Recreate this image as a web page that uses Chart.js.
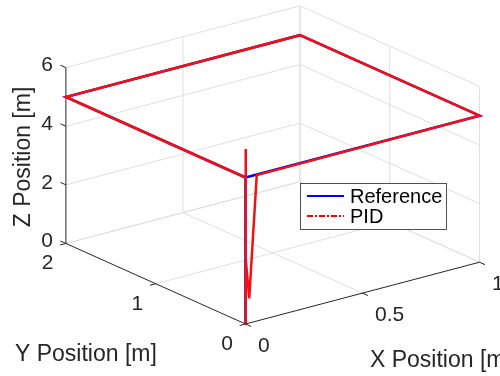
<!DOCTYPE html>
<html>
<head>
<meta charset="utf-8">
<script src="https://cdn.jsdelivr.net/npm/chart.js@4.4.0/dist/chart.umd.min.js"></script>
<style>
  html, body { margin: 0; padding: 0; background: #fff; }
  canvas { display: block; }
</style>
</head>
<body>
<canvas id="traj3d" width="500" height="376"></canvas>
<script>
// Reference waypoints (m)
const refX = [0, 0, 1, 1, 0, 0];
const refY = [0, 0, 0, 2, 2, 0];
const refZ = [0, 5, 5, 5, 5, 5];

// PID tracked path (m)
const pidX = [0, 0, 0.002, 0.016, 0.048, 1, 1, 0, 0];
const pidY = [0, 0, 0, 0, 0, 0, 2, 2, 0];
const pidZ = [0, 5.97, 2.2, 0.84, 4.98, 5, 5, 5, 5];

// Axis limits and ticks
const xLim = [0, 1], yLim = [0, 2], zLim = [0, 6];
const xTicks = [0, 0.5, 1];
const yTicks = [0, 1, 2];
const zTicks = [0, 2, 4, 6];
const xTickLabels = ['0', '0.5', '1'];
const yTickLabels = ['0', '1', '2'];
const zTickLabels = ['0', '2', '4', '6'];

// camera, like view(-37.5, 30)
const AZ = -37.5 * Math.PI / 180;
const EL = 30 * Math.PI / 180;

function project(x, y, z) {
  const xn = (x - xLim[0]) / (xLim[1] - xLim[0]);
  const yn = (y - yLim[0]) / (yLim[1] - yLim[0]);
  const zn = (z - zLim[0]) / (zLim[1] - zLim[0]);
  return {
    x: Math.cos(AZ) * xn + Math.sin(AZ) * yn,
    y: -Math.sin(EL) * Math.sin(AZ) * xn + Math.sin(EL) * Math.cos(AZ) * yn + Math.cos(EL) * zn
  };
}

function path(xs, ys, zs) {
  return xs.map((x, i) => project(x, ys[i], zs[i]));
}

const GRID = '#dfdfdf';
const AXIS = '#262626';
const FONT = '"Liberation Sans", Arial, Helvetica, sans-serif';

function seg(a, b, color, width, order) {
  return {
    data: [project(a[0], a[1], a[2]), project(b[0], b[1], b[2])],
    showLine: true,
    borderColor: color,
    borderWidth: width,
    pointRadius: 0,
    order: order
  };
}

const datasets = [];
// grid on floor and the two back walls
xTicks.forEach(x => {
  if (x !== xLim[0]) datasets.push(seg([x, yLim[0], zLim[0]], [x, yLim[1], zLim[0]], GRID, 1, 5));
  if (x !== xLim[0]) datasets.push(seg([x, yLim[1], zLim[0]], [x, yLim[1], zLim[1]], GRID, 1, 5));
});
yTicks.forEach(y => {
  if (y !== yLim[0]) datasets.push(seg([xLim[0], y, zLim[0]], [xLim[1], y, zLim[0]], GRID, 1, 5));
  datasets.push(seg([xLim[1], y, zLim[0]], [xLim[1], y, zLim[1]], GRID, 1, 5));
});
zTicks.forEach(z => {
  datasets.push(seg([xLim[0], yLim[1], z], [xLim[1], yLim[1], z], GRID, 1, 5));
  datasets.push(seg([xLim[1], yLim[0], z], [xLim[1], yLim[1], z], GRID, 1, 5));
});
// axis lines
datasets.push(seg([xLim[0], yLim[0], zLim[0]], [xLim[1], yLim[0], zLim[0]], AXIS, 1, 4));
datasets.push(seg([xLim[0], yLim[0], zLim[0]], [xLim[0], yLim[1], zLim[0]], AXIS, 1, 4));
datasets.push(seg([xLim[0], yLim[1], zLim[0]], [xLim[0], yLim[1], zLim[1]], AXIS, 1, 4));

datasets.push({
  label: 'Reference',
  data: path(refX, refY, refZ),
  showLine: true,
  borderColor: '#0000ff',
  borderWidth: 2.5,
  pointRadius: 0,
  order: 1
});
datasets.push({
  label: 'PID',
  data: path(pidX, pidY, pidZ),
  showLine: true,
  borderColor: '#f41010',
  borderWidth: 2.5,
  pointRadius: 0,
  order: 0
});

// ticks, tick labels, axis titles and legend
const axes3d = {
  id: 'axes3d',
  afterDatasetsDraw(chart) {
    const ctx = chart.ctx;
    const sx = chart.scales.x, sy = chart.scales.y;
    const px = (x, y, z) => {
      const p = project(x, y, z);
      return [sx.getPixelForValue(p.x), sy.getPixelForValue(p.y)];
    };
    const tick = (x, y, z, dx, dy, dz) => {
      const a = px(x, y, z), b = px(x + dx, y + dy, z + dz);
      const l = Math.hypot(b[0] - a[0], b[1] - a[1]);
      ctx.beginPath();
      ctx.moveTo(a[0], a[1]);
      ctx.lineTo(a[0] + (b[0] - a[0]) / l * 6, a[1] + (b[1] - a[1]) / l * 6);
      ctx.stroke();
    };
    ctx.save();
    ctx.strokeStyle = AXIS;
    ctx.lineWidth = 1;
    ctx.fillStyle = AXIS;
    ctx.font = '21px ' + FONT;
    ctx.textBaseline = 'middle';

    xTicks.forEach((x, i) => {
      tick(x, yLim[0], zLim[0], 0, -1, 0);
      const p = px(x, yLim[0], zLim[0]);
      ctx.textAlign = 'left';
      ctx.fillText(xTickLabels[i], p[0] + 12.5, p[1] + 22);
    });
    yTicks.forEach((y, i) => {
      tick(xLim[0], y, zLim[0], -1, 0, 0);
      const p = px(xLim[0], y, zLim[0]);
      ctx.textAlign = 'right';
      ctx.fillText(yTickLabels[i], p[0] - 12.5, p[1] + 20);
    });
    zTicks.forEach((z, i) => {
      tick(xLim[0], yLim[1], z, 0, 1, 0);
      const p = px(xLim[0], yLim[1], z);
      ctx.textAlign = 'right';
      ctx.fillText(zTickLabels[i], p[0] - 13, p[1] - 2);
    });

    ctx.font = '23px ' + FONT;
    ctx.textAlign = 'left';
    ctx.fillText('X Position [m]', 370, 361);
    ctx.fillText('Y Position [m]', 15, 355);
    ctx.save();
    ctx.translate(24, 157);
    ctx.rotate(-Math.PI / 2);
    ctx.textAlign = 'center';
    ctx.fillText('Z Position [m]', 0, 0);
    ctx.restore();

    // legend
    ctx.fillStyle = '#ffffff';
    ctx.fillRect(300.5, 183.5, 146, 46);
    ctx.strokeStyle = AXIS;
    ctx.lineWidth = 0.8;
    ctx.strokeRect(300.5, 183.5, 146, 46);
    ctx.lineWidth = 2;
    ctx.strokeStyle = '#0000ff';
    ctx.beginPath(); ctx.moveTo(307, 196); ctx.lineTo(344, 196); ctx.stroke();
    ctx.strokeStyle = '#ff0000';
    ctx.setLineDash([6, 2, 2, 2]);
    ctx.beginPath(); ctx.moveTo(307, 216); ctx.lineTo(344, 216); ctx.stroke();
    ctx.setLineDash([]);
    ctx.fillStyle = '#000000';
    ctx.font = '20px ' + FONT;
    ctx.textAlign = 'left';
    ctx.fillText('Reference', 350, 197);
    ctx.fillText('PID', 350, 217);
    ctx.restore();
  }
};

new Chart(document.getElementById('traj3d'), {
  type: 'scatter',
  data: { datasets: datasets },
  options: {
    responsive: false,
    animation: false,
    layout: { padding: 0 },
    plugins: { legend: { display: false }, tooltip: { enabled: false } },
    scales: {
      x: { type: 'linear', display: false, min: -0.8322, max: 0.8627 },
      y: { type: 'linear', display: false, min: -0.2562, max: 1.5961 }
    }
  },
  plugins: [axes3d]
});
</script>
</body>
</html>
